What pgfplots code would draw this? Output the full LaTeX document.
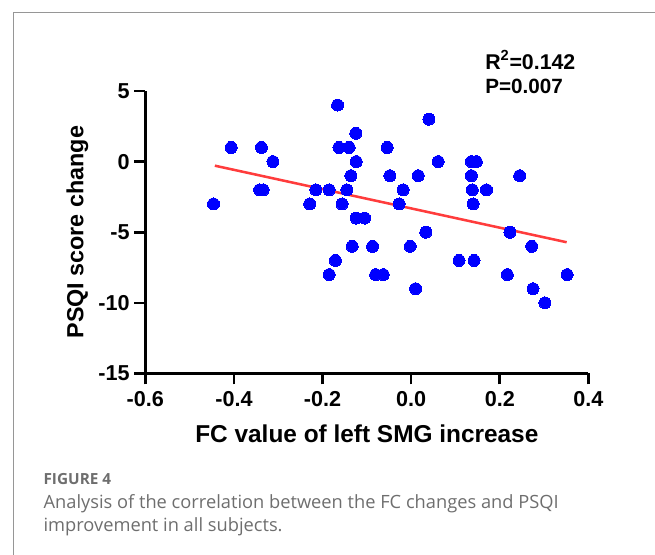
\documentclass[border=0pt]{standalone}
\usepackage{fontspec}
\setmainfont{Liberation Sans}
\newfontfamily\capfont{Open Sans}
\usepackage{pgfplots}
\usepackage{pgfplotstable}
\pgfplotsset{compat=1.18}

\definecolor{dotblue}{RGB}{0,0,255}
\definecolor{fitred}{RGB}{255,60,60}
\definecolor{framegray}{RGB}{150,150,150}
\definecolor{capgray}{RGB}{110,110,110}

% FC change vs PSQI change, one row per subject
\pgfplotstableread{
x y
-0.166 4
-0.125 2
-0.406 1
-0.338 1
-0.163 1
-0.140 1
-0.312 0
-0.124 0
-0.136 -1
-0.342 -2
-0.334 -2
-0.215 -2
-0.185 -2
-0.145 -2
-0.446 -3
-0.229 -3
-0.156 -3
-0.124 -4
-0.105 -4
-0.133 -6
-0.087 -6
-0.171 -7
-0.185 -8
-0.080 -8
-0.063 -8
0.040 3
-0.054 1
0.061 0
0.136 0
0.147 0
-0.048 -1
0.016 -1
0.136 -1
0.245 -1
-0.018 -2
0.138 -2
0.170 -2
-0.027 -3
0.140 -3
0.033 -5
0.223 -5
-0.002 -6
0.272 -6
0.108 -7
0.142 -7
0.217 -8
0.352 -8
0.010 -9
0.275 -9
0.302 -10
}\scatterdata

\begin{document}
\begin{tikzpicture}
\useasboundingbox (0,0) rectangle (491.25pt,416.25pt);

\begin{axis}[
  at={(108.98pt,136.13pt)}, anchor=south west,
  scale only axis, width=332.3pt, height=211.9pt,
  xmin=-0.6, xmax=0.4, ymin=-15, ymax=5,
  axis lines=left,
  axis line style={-, line width=2pt},
  xtick={-0.6,-0.4,-0.2,0,0.2,0.4},
  xticklabels={-0.6,-0.4,-0.2,0.0,0.2,0.4},
  ytick={-15,-10,-5,0,5},
  yticklabels={-15,-10,-5,0,5},
  tick align=outside,
  major tick length=8.25pt,
  tick style={line width=2pt, black},
  ticklabel style={font=\fontsize{16.2}{18}\selectfont\bfseries},
  xticklabel style={yshift=-1.5pt},
  xlabel={FC value of left SMG increase},
  ylabel={PSQI score change},
  xlabel style={at={(axis description cs:0.5,-0.245)}, anchor=base,
    font=\fontsize{18.3}{20}\selectfont\bfseries},
  ylabel style={at={(axis description cs:-0.1399,0.5)}, anchor=base,
    font=\fontsize{17.5}{20}\selectfont\bfseries},
  clip=false,
]
\addplot[dotblue, only marks, mark=*, mark size=4.5pt,
  mark options={draw=dotblue, fill=dotblue, line width=0pt}] table {\scatterdata};
\addplot[fitred, line width=1.9pt] coordinates {(-0.443,-0.29) (0.351,-5.71)};
\end{axis}

\begin{scope}[shift={(0pt,416.25pt)}, x=0.75pt, y=-0.75pt]
  \draw[framegray, line width=1pt] (13.3,560) -- (13.3,12.5) -- (660,12.5);
  \node[anchor=base west, inner sep=0pt, font=\fontsize{16}{18}\selectfont\bfseries]
    at (485,69.3) {R\textsuperscript{\fontsize{11}{12}\selectfont 2}=0.142};
  \node[anchor=base west, inner sep=0pt, font=\fontsize{15.5}{18}\selectfont\bfseries]
    at (485,94) {P=0.007};
  \node[anchor=base west, inner sep=0pt, text=capgray,
    font=\capfont\bfseries\fontsize{11.5}{14}\selectfont]
    at (43.3,485) {FIGURE 4};
  \node[anchor=base west, inner sep=0pt, text=capgray,
    font=\capfont\fontsize{13.7}{17}\selectfont]
    at (43.3,508.3) {Analysis of the correlation between the FC changes and PSQI};
  \node[anchor=base west, inner sep=0pt, text=capgray,
    font=\capfont\fontsize{13.7}{17}\selectfont]
    at (43.3,531.7) {improvement in all subjects.};
\end{scope}
\end{tikzpicture}
\end{document}
